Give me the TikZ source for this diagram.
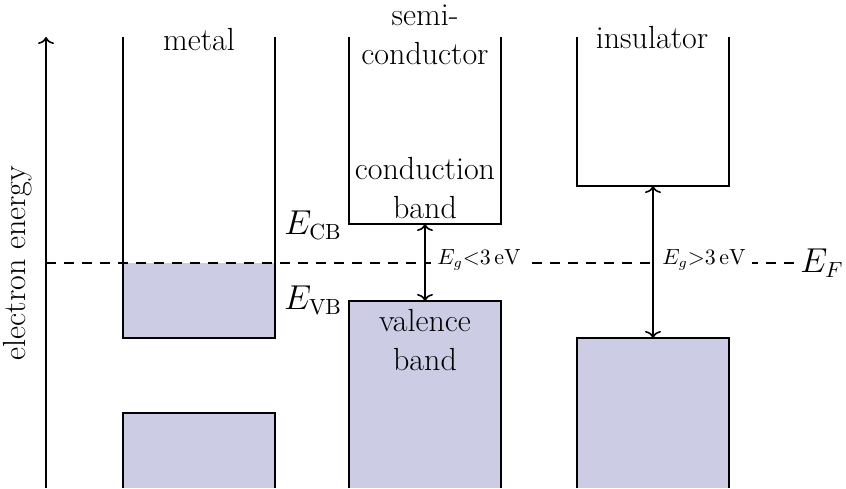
\documentclass[tikz,border=0pt]{standalone}
\usetikzlibrary{arrows.meta}
\definecolor{bandfill}{RGB}{204,204,228}
\tikzset{
  >={To[length=3.5pt,width=8pt]},
  band/.style={draw, line width=0.8pt, fill=bandfill},
  wall/.style={draw, line width=0.8pt},
  lbl/.style={font=\fontsize{16}{19.5}\selectfont, align=center, inner sep=1pt},
  gaplbl/.style={font=\fontsize{10.5}{12}\selectfont, fill=white, inner sep=3pt, anchor=west},
}
\begin{document}
\begin{tikzpicture}[x=0.5pt,y=-0.5pt]
  \useasboundingbox (0,0) rectangle (846,488);
  \pgfmathsetmacro{\ytop}{37}
  \pgfmathsetmacro{\ybot}{488}
  \pgfmathsetmacro{\yF}{263}
  \pgfmathsetmacro{\bw}{152}

  % occupied part of the metal band
  \fill[bandfill] (123,\yF) rectangle (275,338);

  % lower (filled) bands
  \foreach \xl/\vb in {123/413, 349/301, 577/338} {
    \draw[band] (\xl,\ybot) -- (\xl,\vb) -- (\xl+\bw,\vb) -- (\xl+\bw,\ybot);
  }

  % Fermi level
  \coordinate (fl) at (46,\yF);
  \node[lbl, anchor=east] (EF) at (846,\yF) {$E_F$};
  \draw[line width=0.8pt, dash pattern=on 5pt off 4pt] (fl) -- ([xshift=-2pt]EF.west);

  % upper (empty) bands
  \foreach \xl/\cb in {123/338, 349/224, 577/186} {
    \draw[wall] (\xl,\ytop) -- (\xl,\cb) -- (\xl+\bw,\cb) -- (\xl+\bw,\ytop);
  }

  % energy axis
  \coordinate (axbot) at (46,\ybot);
  \coordinate (axtop) at (46,\ytop);
  \draw[line width=0.8pt, ->] (axbot) -- (axtop);
  \node[lbl, rotate=90] (axlabel) at (18,263) {electron energy};

  % column titles
  \node[lbl] (metal) at (199,40) {metal};
  \node[lbl] (semi) at (425,35) {semi-\\conductor};
  \node[lbl] (ins) at (652,38) {insulator};
  \node[lbl] (cband) at (425,188) {conduction\\band};
  \node[lbl] (vband) at (425,340) {valence\\band};
  \node[lbl] (ECB) at (313,225) {$E_{\mathrm{CB}}$};
  \node[lbl] (EVB) at (313,300) {$E_{\mathrm{VB}}$};

  % band gaps
  \node[gaplbl] (gapsemi) at (431,260) {$E_g{<}3\,\mathrm{eV}$};
  \node[gaplbl] (gapins) at (656,260) {$E_g{>}3\,\mathrm{eV}$};
  \coordinate (semicb) at (425,224);
  \coordinate (semivb) at (425,301);
  \coordinate (inscb) at (653,186);
  \coordinate (insvb) at (653,338);
  \draw[line width=0.8pt, <->] (semicb) -- (semivb);
  \draw[line width=0.8pt, <->] (inscb) -- (insvb);
\end{tikzpicture}
\end{document}
